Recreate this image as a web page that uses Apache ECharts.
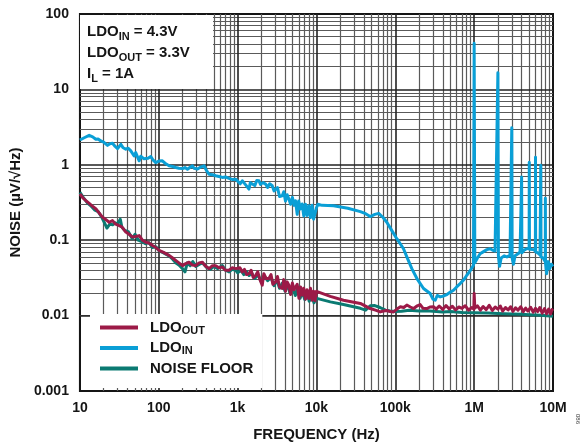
<!DOCTYPE html>
<html><head><meta charset="utf-8">
<script src="https://cdn.jsdelivr.net/npm/echarts@6/dist/echarts.min.js"></script>
<style>html,body{margin:0;padding:0;background:#fff}#c{width:587px;height:447px}</style>
</head><body><div id="c"></div>
<script>
const xTickLabels = ['10','100','1k','10k','100k','1M','10M'];
const yTickLabels = ['0.001','0.01','0.1','1','10','100'];

const ldoInFreq = [10,10.3,11.5,13.1,14.5,15.9,17,18.4,20,22.4,24,25.9,28,30,33,35,38.2,41,44.2,48.7,51,53.7,56.4,59,62,65,68.4,73,79.2,85,91.6,100,111,120,135,150,164,180,200,215,231,250,267,280,294,310,324,345,375,400,434,480,527,580,640,700,777,850,944,1000,1080,1146,1250,1393,1450,1535,1650,1750,1863,1950,2100,2264,2400,2550,2748,2900,3030,3200,3400,3680,3850,4050,4250,4467,4700,4950,5200,5420,5700,5950,6250,6590,6900,7260,7600,8000,8400,8800,9200,9730,10000,10400,11800,16500,25000,36000,42000,48000,55000,61500,70000,78000,90000,105000,127000,140000,162000,188000,228000,277000,300000,321000,340000,371000,410000,451000,500000,547000,600000,665000,740000,807000,900000,980000,1000000,1020000,1100000,1190000,1300000,1450000,1590000,1700000,1840000,1950000,2000000,2030000,2100000,2200000,2400000,2600000,2850000,2980000,3000000,3030000,3150000,3300000,3600000,3820000,3980000,4000000,4030000,4300000,4640000,4980000,5000000,5030000,5300000,5640000,5980000,6000000,6030000,6400000,6840000,6980000,7000000,7030000,7500000,7980000,8000000,8030000,8300000,8700000,9100000,9500000,10000000];
const ldoInVal = [2.13,2.15,2.3,2.46,2.35,2.18,2.2,2.07,2.0,1.81,1.9,1.93,1.75,1.64,1.87,1.7,1.61,1.66,1.53,1.31,1.45,1.53,1.13,1.3,1.38,1.2,1.25,1.22,1.29,1.15,1.07,1.12,1.13,1.05,0.97,0.95,0.92,0.9,0.89,0.92,0.875,0.93,0.97,0.9,0.857,0.88,0.893,0.94,0.97,0.85,0.75,0.74,0.715,0.7,0.68,0.69,0.66,0.64,0.645,0.63,0.56,0.614,0.55,0.477,0.58,0.583,0.53,0.62,0.614,0.55,0.58,0.555,0.5,0.56,0.527,0.45,0.43,0.5,0.38,0.389,0.44,0.33,0.4,0.352,0.3,0.37,0.29,0.334,0.22,0.33,0.26,0.302,0.21,0.3,0.212,0.287,0.2,0.29,0.19,0.201,0.27,0.3,0.29,0.287,0.265,0.239,0.225,0.206,0.22,0.227,0.2,0.173,0.135,0.104,0.077,0.06,0.042,0.031,0.0229,0.0196,0.0165,0.016,0.0185,0.0177,0.0182,0.019,0.0205,0.0217,0.024,0.0266,0.03,0.0343,0.04,0.0465,41,0.05,0.058,0.066,0.07,0.075,0.077,0.074,0.072,0.068,16.6,0.062,0.045,0.058,0.062,0.06,0.063,0.062,3.1,0.058,0.048,0.062,0.066,0.07,0.07,0.69,0.068,0.074,0.077,0.078,1.08,0.076,0.075,0.075,0.072,1.26,0.07,0.068,0.064,0.063,0.99,0.06,0.058,0.052,0.36,0.05,0.036,0.052,0.042,0.048,0.045];

const ldoOutFreq = [10,11,11.9,13,14,16,17.5,19.4,21,23.5,25.9,28,31.5,34,38.2,42,46.4,51,56.4,62,68.4,75,83.2,92,101,115,135,150,164,180,200,220,242,265,294,325,357,395,434,480,527,580,640,700,777,850,944,1000,1070,1146,1220,1300,1393,1480,1580,1690,1800,1920,2052,2150,2300,2494,2650,2800,3030,3200,3400,3680,3850,4050,4250,4467,4700,4950,5200,5420,5700,6000,6300,6590,6900,7250,7600,8000,8400,8800,9200,9600,10000,10400,15000,22000,36000,48000,56000,64500,71000,78000,86000,95000,105000,116000,128000,140000,155000,171000,190000,207000,225000,251000,275000,305000,330000,360000,400000,440000,480000,530000,580000,640000,700000,770000,850000,930000,990000,1000000,1020000,1100000,1200000,1300000,1420000,1550000,1700000,1850000,2000000,2150000,2300000,2500000,2700000,2900000,3100000,3350000,3600000,3900000,4200000,4500000,4800000,5200000,5600000,6000000,6400000,6800000,7300000,7800000,8300000,8800000,9300000,9700000,10000000];
const ldoOutVal = [0.41,0.36,0.334,0.31,0.29,0.259,0.23,0.201,0.19,0.173,0.182,0.165,0.156,0.15,0.128,0.12,0.11,0.112,0.115,0.1,0.094,0.092,0.085,0.08,0.073,0.069,0.063,0.058,0.054,0.05,0.046,0.049,0.051,0.047,0.046,0.05,0.051,0.045,0.042,0.046,0.046,0.043,0.044,0.04,0.04,0.043,0.042,0.04,0.043,0.038,0.041,0.035,0.036,0.04,0.032,0.034,0.038,0.03,0.0253,0.036,0.031,0.031,0.035,0.026,0.028,0.033,0.024,0.0229,0.03,0.021,0.028,0.0253,0.019,0.027,0.022,0.0207,0.026,0.017,0.024,0.0187,0.023,0.0165,0.022,0.0169,0.023,0.016,0.021,0.0158,0.021,0.0205,0.018,0.016,0.0145,0.0124,0.0118,0.0112,0.0115,0.0117,0.0113,0.0112,0.0122,0.0131,0.0128,0.0138,0.013,0.0124,0.0135,0.014,0.0125,0.0124,0.013,0.0131,0.0122,0.0134,0.0121,0.0136,0.0123,0.0133,0.0119,0.013,0.0125,0.0135,0.0118,0.0128,0.0122,0.0196,0.0125,0.0135,0.0118,0.0132,0.012,0.0137,0.0117,0.013,0.0122,0.0134,0.0115,0.0128,0.0119,0.0131,0.0114,0.0127,0.0118,0.0131,0.0113,0.0126,0.0115,0.0129,0.0111,0.0125,0.0113,0.0128,0.0108,0.0124,0.0106,0.0122,0.0105,0.012,0.0115];

const floorFreq = [10,11,12.5,14,15.5,17,19,20.5,22,24,26,28,30,32.5,34,37,41,46,50,55,62,68,75,83,92,101,115,135,150,165,180,200,215,230,250,270,294,330,360,400,450,500,560,640,700,780,850,944,1000,1100,1200,1300,1400,1500,1650,1800,2000,2200,2400,2650,2900,3150,3400,3700,4000,4300,4600,5000,5400,5800,6200,6600,7100,7600,8100,8700,9300,9800,10400,15000,22000,36000,42000,48000,55000,64000,75000,86000,100000,120000,150000,200000,250000,300000,400000,500000,700000,1000000,1500000,2000000,3000000,4000000,5000000,7000000,10000000];
const floorVal = [0.43,0.37,0.31,0.28,0.25,0.24,0.2,0.17,0.145,0.165,0.16,0.17,0.165,0.19,0.15,0.135,0.13,0.105,0.12,0.1,0.095,0.09,0.093,0.08,0.082,0.072,0.068,0.062,0.056,0.05,0.047,0.042,0.038,0.05,0.046,0.052,0.045,0.048,0.05,0.044,0.041,0.045,0.042,0.046,0.04,0.038,0.041,0.04,0.037,0.04,0.035,0.038,0.034,0.037,0.031,0.035,0.028,0.033,0.029,0.032,0.025,0.03,0.023,0.027,0.021,0.026,0.02,0.024,0.0185,0.023,0.017,0.021,0.0163,0.02,0.0155,0.019,0.0148,0.0165,0.0168,0.0152,0.014,0.0125,0.0118,0.0135,0.0136,0.0128,0.0118,0.0115,0.0113,0.0114,0.0118,0.0115,0.0116,0.0114,0.0112,0.0113,0.011,0.0109,0.0108,0.0107,0.0105,0.0104,0.0103,0.0101,0.0098];

const F = "'Liberation Sans', Arial, Helvetica, sans-serif";
const INK = '#151515';
const C_IN = '#0a9fd6', C_OUT = '#9c1a47', C_FLOOR = '#0b7a72';

function zip(f, v) { return f.map((x, i) => [x, v[i]]); }

// decade grid (axis ticks) for log axes
const xMinor = [], xMajor = [], yMinor = [], yMajor = [];
for (let d = 1; d <= 6; d++) {
  if (d > 1) xMajor.push(Math.pow(10, d));
  for (let m = 2; m <= 9; m++) xMinor.push(m * Math.pow(10, d));
}
for (let d = -3; d <= 1; d++) {
  if (d > -3) yMajor.push(Math.pow(10, d));
  for (let m = 2; m <= 9; m++) yMinor.push(+(m * Math.pow(10, d)).toPrecision(3));
}
const minorStyle = { color: '#5a5a5a', width: 1.2, type: 'solid', opacity: 1 };
const majorStyle = { color: '#222', width: 1.6, type: 'solid', opacity: 1 };
const gridLines = []
  .concat(xMinor.map(v => ({ xAxis: v, lineStyle: minorStyle })))
  .concat(yMinor.map(v => ({ yAxis: v, lineStyle: minorStyle })))
  .concat(xMajor.map(v => ({ xAxis: v, lineStyle: majorStyle })))
  .concat(yMajor.map(v => ({ yAxis: v, lineStyle: majorStyle })));

const legendRich = {
  f: { fontFamily: F, fontSize: 15, fontWeight: 'bold', color: INK, lineHeight: 17, padding: [0, 0, 0, 7] },
  m: { fontFamily: F, fontSize: 15, fontWeight: 'bold', color: INK, lineHeight: 17 },
  s: { fontFamily: F, fontSize: 11, fontWeight: 'bold', color: INK, lineHeight: 9, verticalAlign: 'bottom' }
};
const legendLabels = {
  'LDO_OUT': '{f|LDO}{s|OUT}',
  'LDO_IN': '{f|LDO}{s|IN}',
  'NOISE FLOOR': '{f|NOISE FLOOR}'
};

const chart = echarts.init(document.getElementById('c'), null, { renderer: 'canvas' });
chart.setOption({
  animation: false,
  backgroundColor: '#fff',
  grid: { left: 79, right: 34, top: 14, bottom: 54, show: true, borderColor: INK, borderWidth: 2, backgroundColor: '#fff' },
  xAxis: {
    type: 'log', logBase: 10, min: 10, max: 1e7,
    axisLine: { show: true, lineStyle: { color: INK, width: 2 } },
    axisTick: { show: false }, splitLine: { show: false },
    axisLabel: {
      fontFamily: F, fontSize: 14, fontWeight: 'bold', color: INK, margin: 10,
      formatter: v => xTickLabels[Math.round(Math.log10(v)) - 1]
    },
    name: 'FREQUENCY (Hz)', nameLocation: 'middle', nameGap: 36,
    nameTextStyle: { fontFamily: F, fontSize: 15, fontWeight: 'bold', color: INK }
  },
  yAxis: {
    type: 'log', logBase: 10, min: 0.001, max: 100,
    axisLine: { show: true, lineStyle: { color: INK, width: 2 } },
    axisTick: { show: false }, splitLine: { show: false },
    axisLabel: {
      fontFamily: F, fontSize: 14, fontWeight: 'bold', color: INK, margin: 11,
      formatter: v => yTickLabels[Math.round(Math.log10(v)) + 3]
    },
    name: 'NOISE (µV/√Hz)', nameLocation: 'middle', nameGap: 54,
    nameTextStyle: { fontFamily: F, fontSize: 15, fontWeight: 'bold', color: INK }
  },
  legend: {
    data: ['LDO_OUT', 'LDO_IN', 'NOISE FLOOR'],
    orient: 'vertical', left: 90, top: 314, z: 50,
    padding: [6, 9, 12, 10], itemGap: 4.5,
    itemWidth: 38, itemHeight: 4, icon: 'rect',
    backgroundColor: '#fff', borderWidth: 0,
    selectedMode: false,
    formatter: n => legendLabels[n],
    textStyle: { rich: legendRich }
  },
  graphic: [
    { type: 'rect', z: 100, shape: { x: 80, y: 15, width: 133, height: 74 }, style: { fill: '#fff' } },
    {
      type: 'text', z: 101, x: 87, y: 21.5,
      style: {
        text: '{m|LDO}{s|IN}{m| = 4.3V}\n{m|LDO}{s|OUT}{m| = 3.3V}\n{m|I}{s|L}{m| = 1A}',
        verticalAlign: 'top', align: 'left',
        rich: {
          m: { fontFamily: F, fontSize: 15, fontWeight: 'bold', fill: INK, color: INK, lineHeight: 21 },
          s: { fontFamily: F, fontSize: 11, fontWeight: 'bold', fill: INK, color: INK, lineHeight: 13, verticalAlign: 'bottom' }
        }
      }
    },
    {
      type: 'text', z: 101, x: 578, y: 414, rotation: -Math.PI / 2,
      style: { text: '086', fontFamily: F, fontSize: 6, fill: '#333', align: 'left', verticalAlign: 'middle' }
    }
  ],
  series: [
    {
      name: 'grid', type: 'line', z: 1, silent: true, data: [[10, 0.001]],
      showSymbol: false, lineStyle: { opacity: 0 },
      markLine: { z: 1, silent: true, symbol: ['none', 'none'], label: { show: false }, emphasis: { disabled: true }, data: gridLines }
    },
    {
      name: 'NOISE FLOOR', type: 'line', z: 2, data: zip(floorFreq, floorVal), color: C_FLOOR,
      showSymbol: false, lineStyle: { width: 3, color: C_FLOOR, join: 'round' }
    },
    {
      name: 'LDO_OUT', type: 'line', z: 3, data: zip(ldoOutFreq, ldoOutVal), color: C_OUT,
      showSymbol: false, lineStyle: { width: 3, color: C_OUT, join: 'round' }
    },
    {
      name: 'LDO_IN', type: 'line', z: 4, data: zip(ldoInFreq, ldoInVal), color: C_IN,
      showSymbol: false, lineStyle: { width: 3, color: C_IN, join: 'round' }
    }
  ]
});
</script>
</body></html>
